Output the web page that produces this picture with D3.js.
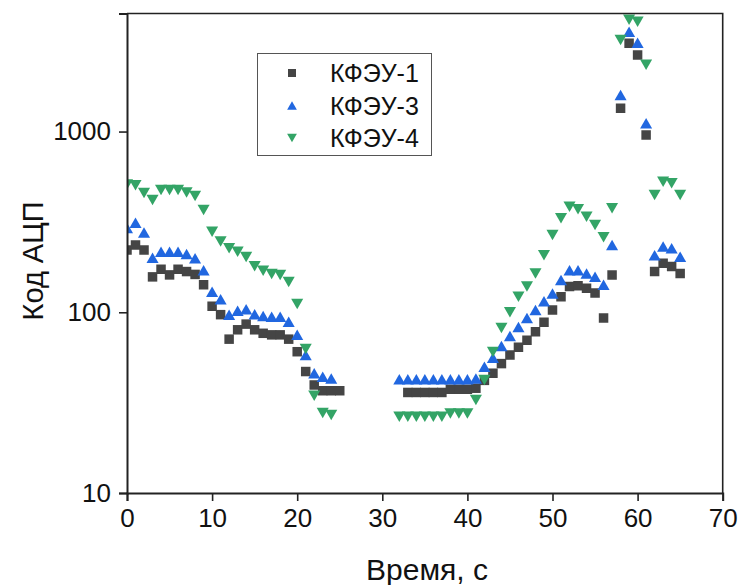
<!DOCTYPE html>
<html>
<head>
<meta charset="utf-8">
<script src="https://cdn.jsdelivr.net/npm/d3@7"></script>
<style>
  html, body { margin: 0; padding: 0; background: #fff; }
  svg { display: block; font-family: "Liberation Sans", Arial, sans-serif; }
</style>
</head>
<body>
<svg id="chart" width="742" height="585"></svg>
<script>
// Time points, seconds
const time = [
  0, 1, 2, 3, 4, 5, 6, 7, 8, 9, 10, 11, 12, 13, 14, 15, 16, 17, 18, 19, 20, 21, 22, 23, 24, 25,
  32, 33, 34, 35, 36, 37, 38, 39, 40, 41, 42, 43, 44, 45, 46, 47, 48, 49, 50,
  51, 52, 53, 54, 55, 56, 57, 58, 59, 60, 61, 62, 63, 64, 65
];

// ADC codes per detector (null = no reading at that time)
const kfeu1 = [
  221, 236, 221, 157, 173, 161, 173, 168, 162, 142, 108, 97, 71, 80, 86, 80, 76.5, 75, 75, 71, 60.5, 47, 39.6, 36.8, 36.8, 36.8,
  null, 36, 36, 36, 36, 36, 37.5, 37.5, 37.5, 38, 42, 46, 52, 58, 64, 70, 78, 88, 103,
  122, 139, 140, 136, 128, 93, 161, 1346, 3080, 2650, 957, 168, 187, 179, 164
];
const kfeu3 = [
  293, 313, 276, 200, 216, 216, 216, 210, 199, 171, 130, 118, 97, 102, 104, 97.5, 95.4, 94.6, 94.6, 88.7, 75, 58, 46, 44, 43, null,
  42.6, 42.6, 42.6, 42.6, 42.6, 42.6, 42.6, 42.6, 42.6, 43, 50, 56, 65, 74, 83, 93, 103, 115, 127,
  151, 171, 171, 164, 157, 142, 236, 1594, 3570, 3100, 1112, 207, 231, 226, 203
];
const kfeu4 = [
  510, 505, 457, 418, 475, 475, 475, 460, 440, 368, 279, 246, 226, 216, 202, 180, 170, 163, 161, 147, 111, 62.6, 34.5, 27.7, 27, null,
  26.4, 26.4, 26.4, 26.4, 26.4, 26.4, 27.5, 27.5, 27.5, 32.7, 42.2, 60.3, 81.8, 100, 122, 139, 164, 207, 268,
  331, 384, 372, 338, 304, 260, 376, 3210, 4150, 4050, 2340, 446, 528, 518, 446
];

const seriesNames = ["КФЭУ-1", "КФЭУ-3", "КФЭУ-4"];
const xTicks = [0, 10, 20, 30, 40, 50, 60, 70];
const yTicks = [10, 100, 1000];

const series = [
  { name: seriesNames[0], values: kfeu1, color: "#454545", shape: "square" },
  { name: seriesNames[1], values: kfeu3, color: "#2167e0", shape: "up" },
  { name: seriesNames[2], values: kfeu4, color: "#33a466", shape: "down" }
];

const svg = d3.select("#chart");
const pl = 127, pr = 722.7, pt = 13.5, pb = 493;

const x = d3.scaleLinear().domain([0, 70]).range([pl, pr]);
const y = d3.scaleLog().domain([10, 4500]).range([pb, pt]);

// Marker path generators, centred on their bounding box
function markerPath(shape, s) {
  if (shape === "square") {
    const h = s / 2;
    return `M${-h},${-h}H${h}V${h}H${-h}Z`;
  }
  const w = s * 1.15 / 2, h = s / 2;
  if (shape === "up") return `M0,${-h}L${w},${h}L${-w},${h}Z`;
  return `M0,${h}L${w},${-h}L${-w},${-h}Z`;
}

svg.append("defs").append("clipPath").attr("id", "plot-clip")
  .append("rect")
  .attr("x", pl).attr("y", pt)
  .attr("width", pr - pl).attr("height", pb - pt);

// Data markers
const plot = svg.append("g").attr("clip-path", "url(#plot-clip)");
series.forEach(s => {
  const pts = time.map((t, i) => ({ t, v: s.values[i] })).filter(d => d.v != null);
  plot.append("g").selectAll("path")
    .data(pts)
    .join("path")
    .attr("transform", d => `translate(${x(d.t)},${y(d.v)})`)
    .attr("d", markerPath(s.shape, s.shape === "square" ? 9.5 : 10.5))
    .attr("fill", s.color);
});

// Frame (top and right)
svg.append("path")
  .attr("d", `M${pl},${pt}H${pr}V${pb}`)
  .attr("fill", "none")
  .attr("stroke", "#222")
  .attr("stroke-width", 1.6);

// X axis
const xAxis = svg.append("g").attr("transform", `translate(0,${pb})`);
xAxis.call(d3.axisBottom(x).tickValues(d3.range(5, 70, 10)).tickSize(4).tickFormat(""))
  .call(g => g.select(".domain").remove());
xAxis.call(d3.axisBottom(x).tickValues(xTicks).tickSize(8).tickPadding(8).tickFormat(d3.format("d")))
  .call(g => g.selectAll(".domain").attr("stroke-width", 2).attr("stroke", "#222"));
xAxis.selectAll("line").attr("stroke", "#222").attr("stroke-width", 1.6);
xAxis.selectAll("text").attr("font-size", 26).attr("fill", "#111")
  .attr("font-family", "'Liberation Sans', Arial, sans-serif");

// Y axis
const minorY = [];
[10, 100, 1000].forEach(dec => { for (let k = 2; k <= 9; k++) { if (dec * k <= 4500) minorY.push(dec * k); } });
const yAxis = svg.append("g").attr("transform", `translate(${pl},0)`);
yAxis.call(d3.axisLeft(y).tickValues(minorY).tickSize(5).tickFormat(""))
  .call(g => g.select(".domain").remove());
yAxis.call(d3.axisLeft(y).tickValues(yTicks).tickSize(8).tickPadding(8).tickFormat(d3.format("d")))
  .call(g => g.selectAll(".domain").attr("stroke-width", 2).attr("stroke", "#222"));
yAxis.selectAll("line").attr("stroke", "#222").attr("stroke-width", 1.6);
yAxis.selectAll("text").attr("font-size", 26).attr("fill", "#111")
  .attr("font-family", "'Liberation Sans', Arial, sans-serif");

// Axis titles
svg.append("text")
  .attr("x", 427).attr("y", 580)
  .attr("text-anchor", "middle")
  .attr("font-size", 30).attr("fill", "#111")
  .text("Время, с");
svg.append("text")
  .attr("transform", `translate(43,261) rotate(-90)`)
  .attr("text-anchor", "middle")
  .attr("font-size", 29).attr("fill", "#111")
  .text("Код АЦП");

// Legend
const legend = svg.append("g");
legend.append("rect")
  .attr("x", 257.5).attr("y", 53.5).attr("width", 174).attr("height", 102)
  .attr("fill", "#fff").attr("stroke", "#555").attr("stroke-width", 1);
series.forEach((s, i) => {
  const cy = 73 + i * 32.5;
  legend.append("path")
    .attr("transform", `translate(292,${cy})`)
    .attr("d", markerPath(s.shape, s.shape === "square" ? 8 : 8.5))
    .attr("fill", s.color);
  legend.append("text")
    .attr("x", 330).attr("y", cy)
    .attr("dy", "0.36em")
    .attr("font-size", 25).attr("fill", "#111")
    .text(s.name);
});
</script>
</body>
</html>
